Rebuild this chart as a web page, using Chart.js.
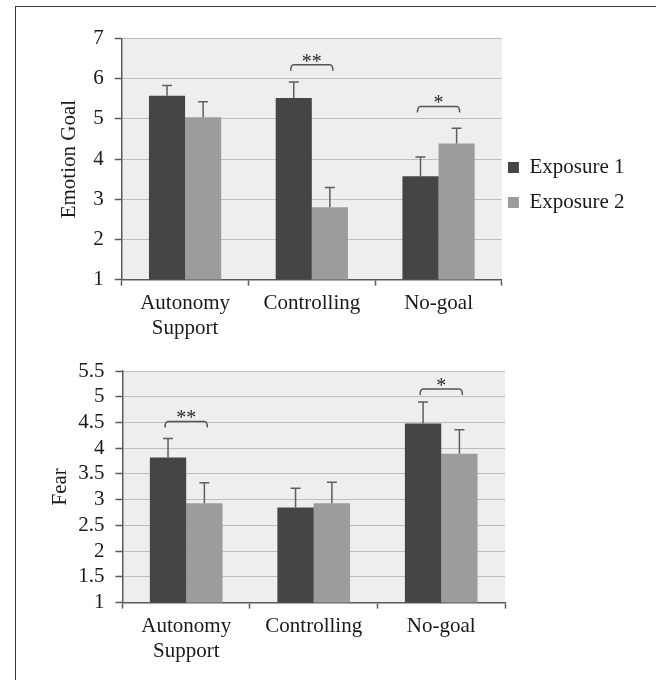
<!DOCTYPE html>
<html>
<head>
<meta charset="utf-8">
<script src="https://cdn.jsdelivr.net/npm/chart.js@4.4.1/dist/chart.umd.min.js"></script>
<style>
  html, body { margin: 0; padding: 0; background: #ffffff; }
  body { width: 656px; height: 680px; position: relative; overflow: hidden; }
  #frame { position: absolute; left: 15px; top: 6px; width: 700px; height: 700px;
           border-top: 1.5px solid #3a3a3a; border-left: 1.5px solid #3a3a3a; }
  canvas { position: absolute; left: 0; }
  #c1 { top: 15px; }
  #c2 { top: 340px; }
</style>
</head>
<body>
<div id="frame"></div>
<canvas id="c1" width="656" height="331"></canvas>
<canvas id="c2" width="656" height="329"></canvas>
<script>
// ---- data ----
const categories = [["Autonomy", "Support"], "Controlling", "No-goal"];
const seriesNames = ["Exposure 1", "Exposure 2"];

const goalExp1 = [5.58, 5.52, 3.57];
const goalExp2 = [5.04, 2.80, 4.39];
const goalErr1 = [0.25, 0.40, 0.48];
const goalErr2 = [0.39, 0.49, 0.38];
const goalSigIndex = [1, 2];
const goalSigLevel = [6.35, 5.31];
const goalSigLabel = ["**", "*"];
const goalTickValues = [1, 2, 3, 4, 5, 6, 7];

const fearExp1 = [3.82, 2.85, 4.48];
const fearExp2 = [2.93, 2.93, 3.89];
const fearErr1 = [0.37, 0.37, 0.42];
const fearErr2 = [0.40, 0.41, 0.47];
const fearSigIndex = [0, 2];
const fearSigLevel = [4.52, 5.15];
const fearSigLabel = ["**", "*"];
const fearTickValues = [1, 1.5, 2, 2.5, 3, 3.5, 4, 4.5, 5, 5.5];

// ---- styling ----
const FONT = "'Liberation Serif', 'Times New Roman', serif";
const FS = 21;
const DARK = "#454545";
const LIGHT = "#9c9c9c";
const AXIS = "#5a5a5a";
const GRID = "#bdbdbd";
const TEXT = "#1a1a1a";

const plotBg = {
  id: 'plotBg',
  beforeDraw(chart) {
    const {ctx, chartArea: a} = chart;
    ctx.save();
    ctx.fillStyle = '#eeeeee';
    ctx.fillRect(a.left, a.top, a.right - a.left, a.bottom - a.top);
    ctx.restore();
  }
};

const errorBars = {
  id: 'errorBars',
  afterDatasetsDraw(chart) {
    const {ctx} = chart;
    const y = chart.scales.y;
    ctx.save();
    ctx.strokeStyle = '#5e5e5e';
    ctx.lineWidth = 1.5;
    chart.data.datasets.forEach((ds, i) => {
      const meta = chart.getDatasetMeta(i);
      meta.data.forEach((bar, j) => {
        const top = y.getPixelForValue(ds.data[j] + ds.errors[j]);
        ctx.beginPath();
        ctx.moveTo(bar.x, bar.y);
        ctx.lineTo(bar.x, top);
        ctx.moveTo(bar.x - 5, top);
        ctx.lineTo(bar.x + 5, top);
        ctx.stroke();
      });
    });
    ctx.restore();
  }
};

const sigBrackets = {
  id: 'sigBrackets',
  afterDatasetsDraw(chart, args, opts) {
    const {ctx} = chart;
    const y = chart.scales.y;
    const m0 = chart.getDatasetMeta(0), m1 = chart.getDatasetMeta(1);
    ctx.save();
    ctx.strokeStyle = '#555555';
    ctx.lineWidth = 1.5;
    ctx.fillStyle = '#2a2a2a';
    ctx.font = "20px " + FONT;
    ctx.textAlign = 'center';
    ctx.textBaseline = 'alphabetic';
    opts.index.forEach((idx, k) => {
      const x1 = m0.data[idx].x - 3;
      const x2 = m1.data[idx].x + 3;
      const yy = y.getPixelForValue(opts.level[k]);
      ctx.beginPath();
      ctx.moveTo(x1, yy + 6);
      ctx.quadraticCurveTo(x1, yy, x1 + 3, yy);
      ctx.lineTo(x2 - 3, yy);
      ctx.quadraticCurveTo(x2, yy, x2, yy + 6);
      ctx.stroke();
      ctx.fillText(opts.label[k], (x1 + x2) / 2, yy + 3);
    });
    ctx.restore();
  }
};

function makeChart(id, d1, d2, e1, e2, tickValues, title, sig, showLegend, pad) {
  return new Chart(document.getElementById(id), {
    type: 'bar',
    data: {
      labels: categories,
      datasets: [
        { label: seriesNames[0], data: d1, errors: e1, backgroundColor: DARK,
          categoryPercentage: 0.57, barPercentage: 1.0 },
        { label: seriesNames[1], data: d2, errors: e2, backgroundColor: LIGHT,
          categoryPercentage: 0.57, barPercentage: 1.0 }
      ]
    },
    options: {
      responsive: false,
      animation: false,
      layout: { padding: { left: pad.left, right: pad.right, top: pad.top, bottom: pad.bottom } },
      scales: {
        x: {
          grid: { display: true, drawOnChartArea: false, drawTicks: true, tickLength: 6,
                  tickColor: AXIS, tickWidth: 1.5, offset: true },
          border: { color: AXIS, width: 1.5 },
          ticks: { color: TEXT, font: { family: FONT, size: FS }, padding: 5,
                   maxRotation: 0, autoSkip: false }
        },
        y: {
          min: tickValues[0], max: tickValues[tickValues.length - 1],
          afterBuildTicks(scale) { scale.ticks = tickValues.map(v => ({ value: v })); },
          grid: { color: GRID, lineWidth: 1, tickLength: 7, tickColor: AXIS, tickWidth: 1.5 },
          border: { color: AXIS, width: 1.5 },
          ticks: { color: TEXT, font: { family: FONT, size: FS }, padding: 11,
                   autoSkip: false, callback: v => String(v) },
          title: { display: true, text: title, color: TEXT,
                   font: { family: FONT, size: FS }, padding: { top: 0, bottom: pad.titleGap } }
        }
      },
      plugins: {
        tooltip: { enabled: false },
        legend: {
          display: showLegend,
          position: 'right',
          labels: {
            color: TEXT, font: { family: FONT, size: FS, lineHeight: 29 / FS },
            boxWidth: 11, boxHeight: 11, padding: 6,
            generateLabels(chart) {
              return Chart.defaults.plugins.legend.labels.generateLabels(chart)
                .map(item => Object.assign(item, { text: [item.text] }));
            }
          }
        },
        sigBrackets: sig
      }
    },
    plugins: [plotBg, errorBars, sigBrackets]
  });
}

makeChart('c1', goalExp1, goalExp2, goalErr1, goalErr2, goalTickValues, 'Emotion Goal',
  { index: goalSigIndex, level: goalSigLevel, label: goalSigLabel }, true,
  { left: 57, right: 21.5, top: 17, bottom: 0, titleGap: 0 });

makeChart('c2', fearExp1, fearExp2, fearErr1, fearErr2, fearTickValues, 'Fear',
  { index: fearSigIndex, level: fearSigLevel, label: fearSigLabel }, false,
  { left: 48, right: 151, top: 31, bottom: 0, titleGap: -6 });
</script>
</body>
</html>
